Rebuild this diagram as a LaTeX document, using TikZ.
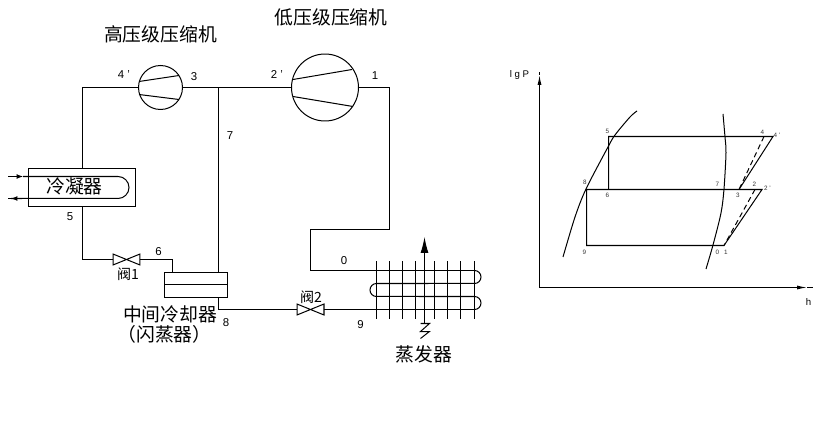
\documentclass[tikz,border=0pt]{standalone}
\usepackage{fontspec}
\setmainfont{Liberation Sans}
\newfontfamily\cjk{Noto Sans CJK SC}
\usetikzlibrary{positioning,calc,arrows.meta}

\begin{document}
\begin{tikzpicture}[x=0.02cm,y=-0.02cm,line width=0.57pt,
                       comp node/.style={circle,draw,outer sep=0pt,inner sep=0pt},
                       box node/.style={rectangle,draw,outer sep=0pt,inner sep=0pt},
                       valve node/.style={rectangle,outer sep=0pt,inner sep=0pt,
                                         minimum width=0.54cm,minimum height=0.22cm},
                       cn text/.style={font=\cjk\fontsize{10.7}{10.7}\selectfont,inner sep=0pt},
                       valve text/.style={font=\cjk\fontsize{8}{8}\selectfont,inner sep=0pt},
                       num text/.style={font=\fontsize{6.5}{6.5}\selectfont,inner sep=0pt},
                       tiny text/.style={font=\fontsize{3.6}{3.6}\selectfont,inner sep=0pt,text=black!80},
                       big tip/.style={-{Latex[length=0.32cm,width=0.16cm]}},
                       flow tip/.style={-{Latex[length=0.13cm,width=0.1cm]}},
                       axis tip/.style={-{Latex[length=0.2cm,width=0.08cm]}}
                           ]
   \useasboundingbox (0,0) rectangle (829,446);
   % cycle on the left
   \node[comp node,minimum size=0.88cm] (hp) at (160.5,87.5) {};
   \node[comp node,minimum size=1.34cm] (lp) at (325,87.5) {};
   \node[box node,minimum width=2.14cm,minimum height=0.76cm] (cond) at (82,187.5) {};
   \node[box node,minimum width=1.26cm,minimum height=0.5cm] (flash) at (196,285) {};
   \node[valve node] (v1) at (126.5,259.5) {};
   \node[valve node] (v2) at (310.5,309.5) {};
   \coordinate (j7) at (218.5,87.5);
   \coordinate (c4) at (82.5,87.5);
   \coordinate (c1) at (389.5,87.5);
   \coordinate (c0a) at (389.5,229.5);
   \coordinate (c0b) at (310.5,229.5);
   \coordinate (c0c) at (310.5,270.5);
   \coordinate (e1) at (474.5,270.5);
   \coordinate (e2) at (474.5,283.5);
   \coordinate (e3) at (376.5,283.5);
   \coordinate (e4) at (474.5,296.5);
   \coordinate (e5) at (474.5,309.5);
   \coordinate (c5) at (82.5,259.5);
   \coordinate (c6) at (172.5,259.5);
   \coordinate (c8) at (218.5,309.5);
   \coordinate (w1) at (8,176.5);
   \coordinate (w1m) at (23,176.5);
   \coordinate (w1r) at (118,176.5);
   \coordinate (w2) at (8,198.5);
   \coordinate (w2m) at (11,198.5);
   \coordinate (w2s) at (21,198.5);
   \coordinate (ua) at (424.5,237);
   \coordinate (ub) at (424.5,323.5);
   \draw (cond.north -| c4) -- (c4) -- (hp.west);
   \draw (hp.east) -- (j7) -- (lp.west);
   \draw (lp.east) -- (c1) -- (c0a) -- (c0b) -- (c0c) -- (e1);
   \draw (j7) -- (j7 |- flash.north);
   \draw (cond.south -| c5) -- (c5) -- (v1.west);
   \draw (v1.east) -- (c6) -- (c6 |- flash.north);
   \draw ($(flash.west)+(0,-0.5)$) -- ($(flash.east)+(0,-0.5)$);
   \draw (j7 |- flash.south) -- (c8) -- (v2.west);
   \draw (v2.east) -- (e5);
   \foreach \v in {v1,v2}
      \draw (\v.north west) -- (\v.south east) -- (\v.north east) -- (\v.south west) -- cycle;
   % compressor blades
   \draw ($(hp)+(-21.5,-6)$) -- ($(hp)+(18.5,-12)$);
   \draw ($(hp)+(-21.5,7)$) -- ($(hp)+(18.5,12)$);
   \draw ($(lp)+(-32,-8)$) -- ($(lp)+(27,-18)$);
   \draw ($(lp)+(-32,9)$) -- ($(lp)+(28,19)$);
   % condenser coil
   \draw[flow tip] (w1) -- (w1m);
   \draw (w1m) -- (w1r) arc[start angle=90,end angle=-90,radius=0.22cm] -- (w2m);
   \draw (w2m) -- (w2);
   \draw[flow tip] (w2s) -- (w2m);
   % evaporator
   \draw (e1) arc[start angle=90,end angle=-90,radius=0.13cm] -- (e3)
         arc[start angle=90,end angle=270,radius=0.13cm] -- (e4)
         arc[start angle=90,end angle=-90,radius=0.13cm];
   \foreach \x in {376.5,389.5,402.5,415.5,434.5,447.5,460.5,474.5}
      \draw (\x,261) -- (\x,319);
   \draw[big tip] (ub) -- (ua);
   \draw (ub) -- ++(-4,0) -- ++(9,0) -- ++(-9,8) -- ++(9,0) -- ++(-9,7);
   % texts on the left
   \node[cn text] (t1) at (160.5,34) {高压级压缩机};
   \node[cn text] (t2) at (331,17) {低压级压缩机};
   \node[cn text] (t3) at (74.5,186) {冷凝器};
   \node[cn text] (t4) at (170,314) {中间冷却器};
   \node[cn text] (t5) at (164.5,334) {（闪蒸器）};
   \node[cn text] (t6) at (424,354) {蒸发器};
   \node[valve text] (t7) at (128,274) {阀1};
   \node[valve text] (t8) at (311,297) {阀2};
   \foreach \n/\x/\y/\s in {a/124/75/4 ',b/194/77/3,d/277/75/2 ',e/375/76/1,f/230/136/7,
                            g/70/217/5,h/158.5/252/6,i/226/323/8,j/344/261/0,k/360.5/325/9}
      \node[num text] (n\n) at (\x,\y) {\s};
   % diagram on the right
   \coordinate (o) at (539.5,287.5);
   \coordinate (ym) at (539.5,75);
   \coordinate (yt) at (539.5,72);
   \coordinate (xm) at (807,287.5);
   \coordinate (xt) at (813,287.5);
   \draw[axis tip] (o) -- (ym);
   \draw (ym) -- (yt);
   \draw[axis tip] (o) -- (xm);
   \draw (xm) -- (xt);
   \draw plot[smooth] coordinates {(563,257) (575,217) (586,189) (608,147) (615,135) (630,117) (637,111)};
   \draw plot[smooth] coordinates {(723,114) (725,137) (726,153) (724,189) (721,213) (713,245) (706,269)};
   \coordinate (p5) at (608.5,136.5);
   \coordinate (p6) at (608.5,189.5);
   \coordinate (p8) at (586.5,189.5);
   \coordinate (p9) at (586.5,245.5);
   \coordinate (p1) at (724,245.5);
   \coordinate (p2) at (755,189.5);
   \coordinate (p2p) at (762,189.5);
   \coordinate (p3) at (739,189.5);
   \coordinate (p4) at (764,136.5);
   \coordinate (p4p) at (773,136.5);
   \draw (p6) -- (p5) -- (p4p) -- (p3);
   \draw (p9) -- (p8) -- (p2p) -- (p1) -- cycle;
   \draw[densely dashed] (p4) -- (p3);
   \draw[densely dashed] (p2) -- (p1);
   \node[font=\fontsize{5.5}{5.5}\selectfont,inner sep=0pt] (lgp) at (519.5,75) {l g P};
   \node[font=\fontsize{5.5}{5.5}\selectfont,inner sep=0pt] (hh) at (808.5,302) {h};
   \foreach \n/\x/\y/\s in {a/607.5/131/5,b/585/182/8,c/607.5/195/6,d/584.5/252/9,e/762.5/132/4,
                            f/777/135.5/4 ',g/717.5/184/7,h/738/195/3,i/754.5/184/2,
                            j/767.5/188.5/2 ',k/717.5/252/0,l/726/252/1}
      \node[tiny text] (s\n) at (\x,\y) {\s};
\end{tikzpicture}
\end{document}
